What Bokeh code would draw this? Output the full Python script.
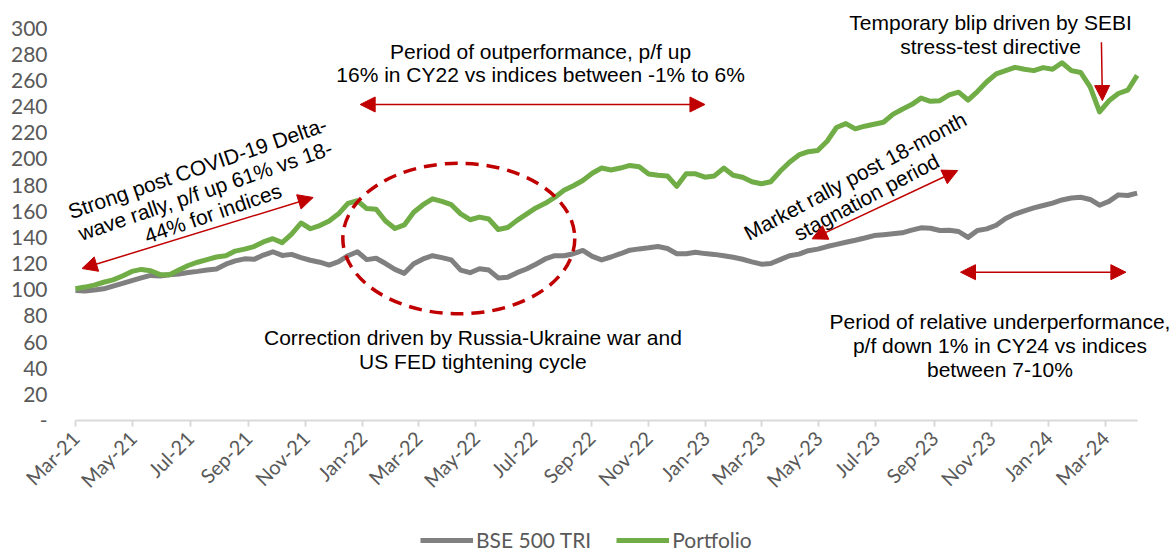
import math
import pandas as pd
from bokeh.plotting import figure
from bokeh.models import (Range1d, FixedTicker, DatetimeTickFormatter, Label, Arrow,
                          NormalHead, Legend, LegendItem, ColumnDataSource)
from bokeh.embed import file_html
from bokeh.resources import INLINE

start_date = "2021-03-01"
end_date = "2024-04-04"
n_points = 114
dates = pd.date_range(start_date, periods=n_points, freq="10D")

portfolio = [100.7, 102, 103.5, 105.7, 107.5, 110.5, 114, 115.5, 114.5, 111.5,
             111.5, 115, 118.5, 121, 123, 125, 126, 129.5, 131, 133,
             136.5, 139, 136, 142.5, 151, 146.6, 149, 152.5, 158, 166,
             168, 162, 161.5, 152.5, 146.8, 149.5, 159.2, 165, 169.5, 167.5,
             165, 158, 153.5, 155.5, 154, 146, 147.5, 153, 157.8, 162.5,
             166, 170.5, 176, 179.5, 183.5, 189, 193, 191.5, 193, 195,
             194, 188.5, 187.5, 187, 179, 188.6, 188.6, 186, 187, 193,
             187.5, 186, 182.5, 181, 182.5, 190.5, 197.5, 203, 205.5, 206.4,
             213.5, 224, 227, 223, 225, 226.5, 228, 234, 238, 241.5,
             246.5, 244, 244.5, 249, 251, 245, 251.5, 259, 265, 267.5,
             270, 268.5, 267.5, 269.8, 268.5, 273.5, 267.5, 266, 255, 236,
             244.4, 250, 252.5, 263.8]

bse500 = [99.4, 99, 99.8, 100.7, 102.8, 104.8, 107, 109, 110.9, 110.5,
          111.5, 112, 113.2, 114, 115, 115.8, 119.5, 122, 123.6, 123.2,
          126.5, 129, 126.2, 127, 124.5, 122.5, 121, 118.8, 121.5, 126,
          129, 123, 124, 120, 115.5, 112.5, 119.8, 123.5, 126, 124.5,
          122.8, 115, 113, 116, 115, 109, 109.5, 113, 115.8, 119.5,
          123.5, 126, 126, 127.5, 130, 125.5, 122.8, 125, 127.5, 130.2,
          131.2, 132, 133, 131.5, 127.5, 127.5, 128.7, 127.6, 127, 126,
          124.8, 123.3, 121.3, 119.5, 120, 123, 126, 127.2, 129.8, 131,
          133, 134.7, 136.3, 137.8, 139.5, 141.4, 142, 142.7, 143.5, 145.5,
          147.3, 147, 145.3, 145.5, 144.5, 140, 145.3, 146.5, 149.3, 154.5,
          157.8, 160.3, 162.5, 164.4, 166.2, 168.6, 170.1, 170.7, 169, 164.6,
          167.5, 172.5, 172, 173.8]

series_names = ["BSE 500 TRI", "Portfolio"]
tick_months = ["2021-03-01", "2021-05-01", "2021-07-01", "2021-09-01", "2021-11-01",
               "2022-01-01", "2022-03-01", "2022-05-01", "2022-07-01", "2022-09-01",
               "2022-11-01", "2023-01-01", "2023-03-01", "2023-05-01", "2023-07-01",
               "2023-09-01", "2023-11-01", "2024-01-01", "2024-03-01"]
y_ticks = list(range(0, 301, 20))

# ---------------- styling / layout -------------
GREEN = "#70ad47"
GREY = "#808080"
RED = "#c00000"
AXIS_TXT = "#595959"
TICK_FONT = "Lato"
ANN_FONT = "Liberation Sans"

W, H = 1174, 554
X0_PX, Y0_PX = 75.0, 420.0          # where the axes cross on the canvas
PX_PER_DAY, PX_PER_UNIT = 0.9395, 1.308
DAY_MS = 86400000.0


def ms(s):
    return pd.Timestamp(s).value / 1e6


x_start = ms(start_date) - X0_PX / PX_PER_DAY * DAY_MS
x_end = x_start + W / PX_PER_DAY * DAY_MS
y_top = Y0_PX / PX_PER_UNIT
y_bottom = -(H - Y0_PX) / PX_PER_UNIT

p = figure(width=W, height=H, x_axis_type="datetime",
           x_range=Range1d(x_start, x_end), y_range=Range1d(y_bottom, y_top),
           output_backend="svg", toolbar_location=None,
           min_border_left=0, min_border_right=0, min_border_top=0, min_border_bottom=0)
p.outline_line_color = None
p.xgrid.visible = False
p.ygrid.visible = False
p.background_fill_color = "white"
p.border_fill_color = "white"

# x axis
xa = p.xaxis[0]
xa.fixed_location = 0
xa.bounds = (ms(start_date), ms(end_date))
xa.ticker = FixedTicker(ticks=[ms(d) for d in tick_months])
xa.formatter = DatetimeTickFormatter(days="%b-%y", months="%b-%y", years="%b-%y")
xa.major_label_orientation = math.pi / 4
xa.axis_line_color = "#d9d9d9"
xa.axis_line_width = 2
xa.major_tick_line_color = "#d9d9d9"
xa.major_tick_line_width = 2
xa.major_tick_out = 6
xa.major_tick_in = 0
xa.minor_tick_line_color = None
xa.major_label_text_font = TICK_FONT
xa.major_label_text_font_size = "20px"
xa.major_label_text_color = AXIS_TXT
xa.major_label_standoff = 8

# y axis
ya = p.yaxis[0]
ya.fixed_location = ms(start_date)
ya.ticker = FixedTicker(ticks=y_ticks)
ya.major_label_overrides = {0: "-"}
ya.axis_line_color = None
ya.major_tick_line_color = None
ya.minor_tick_line_color = None
ya.major_tick_out = 0
ya.major_tick_in = 0
ya.major_label_standoff = 28
ya.major_label_text_font = TICK_FONT
ya.major_label_text_font_size = "21px"
ya.major_label_text_color = AXIS_TXT

src = ColumnDataSource(dict(date=dates, bse=bse500, pf=portfolio))
r_bse = p.line("date", "bse", source=src, line_color=GREY, line_width=5, line_join="round")
r_pf = p.line("date", "pf", source=src, line_color=GREEN, line_width=5, line_join="round")

legend = Legend(items=[LegendItem(label=series_names[0], renderers=[r_bse]),
                       LegendItem(label=series_names[1], renderers=[r_pf])],
                orientation="horizontal", location=(420, 2),
                border_line_alpha=0, background_fill_alpha=0,
                padding=0, margin=0, spacing=25, glyph_width=53, glyph_height=20,
                label_standoff=3, label_text_font=TICK_FONT, label_text_font_size="21px",
                label_text_color=AXIS_TXT)
p.add_layout(legend)

# ---------------- annotations -------------
def label(x, y, text, angle=0.0):
    p.add_layout(Label(x=ms(x), y=y, text=text, text_font=ANN_FONT, text_font_size="21px",
                       text_color="black", text_align="center", text_baseline="middle",
                       text_line_height=1.04, angle=math.radians(angle)))


def arrow(x0, y0, x1, y1, both=True):
    head = dict(size=15, fill_color=RED, line_color=RED)
    p.add_layout(Arrow(x_start=ms(x0), y_start=y0, x_end=ms(x1), y_end=y1,
                       start=NormalHead(**head) if both else None,
                       end=NormalHead(**head), line_color=RED, line_width=1.5))


label("2022-07-09", 273.3, "Period of outperformance, p/f up\n16% in CY22 vs indices between -1% to 6%")
arrow("2021-12-29", 241.6, "2022-12-31", 241.6)

label("2021-07-17", 175.8, "Strong post COVID-19 Delta-\nwave rally, p/f up 61% vs 18-\n44% for indices", 19)
arrow("2021-03-08", 116.2, "2021-11-09", 170.5)

p.ellipse(x=[ms("2022-04-13")], y=[139.1], width=[246.9 * DAY_MS], height=[115.1],
          fill_color=None, line_color=RED, line_width=3.5, line_dash="13 8")

label("2022-04-28", 54.3, "Correction driven by Russia-Ukraine war and\nUS FED tightening cycle")

label("2023-06-15", 178.9, "Market rally post 18-month\nstagnation period", 28)
arrow("2023-04-24", 138.9, "2023-09-26", 191.1)

label("2023-10-31", 295.1, "Temporary blip driven by SEBI\nstress-test directive")
arrow("2024-02-26", 289.2, "2024-02-27", 244.6, both=False)

arrow("2023-09-29", 113.4, "2024-03-23", 113.4)
label("2023-11-10", 57.3, "Period of relative underperformance,\np/f down 1% in CY24 vs indices\nbetween 7-10%")

open("out.html", "w").write(file_html(p, INLINE))
